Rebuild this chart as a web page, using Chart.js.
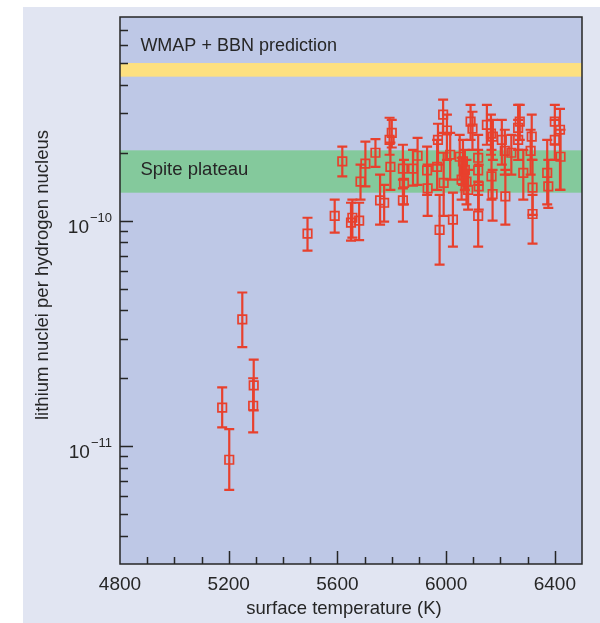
<!DOCTYPE html>
<html>
<head>
<meta charset="utf-8">
<script src="https://cdn.jsdelivr.net/npm/chart.js@4.4.1/dist/chart.umd.min.js"></script>
<style>
  html, body { margin: 0; padding: 0; background: #ffffff; }
  canvas { display: block; }
</style>
</head>
<body>
<canvas id="lithiumChart" width="600" height="623"></canvas>
<script>
// surface temperature of each star (K)
var temps = [5176, 5202, 5250, 5292, 5290,
    5490, 5590, 5618, 5650, 5655, 5680, 5685, 5703, 5740, 5757,
    5772, 5792, 5800, 5795, 5841, 5845, 5841, 5878, 5895, 5930,
    5932, 5970, 5967, 5976, 5989, 6003, 5991, 6025, 6015, 6050,
    6062, 6069, 6057, 6075, 6081, 6090, 6097, 6118, 6118, 6120,
    6118, 6150, 6165, 6172, 6167, 6171, 6205, 6216, 6218, 6240,
    6265, 6271, 6265, 6284, 6311, 6315, 6318, 6318, 6372, 6376,
    6400, 6400, 6419, 6421];

// lithium nuclei per hydrogen nucleus
var lithium = [1.48e-11, 8.7e-12, 3.65e-11, 1.86e-11, 1.51e-11,
    0.876e-10, 1.05e-10, 1.83e-10, 0.98e-10, 1.03e-10, 1.0e-10, 1.49e-10, 1.79e-10, 2.0e-10, 1.23e-10,
    1.20e-10, 2.28e-10, 2.45e-10, 1.73e-10, 1.70e-10, 1.47e-10, 1.23e-10, 1.70e-10, 1.94e-10, 1.67e-10,
    1.39e-10, 2.28e-10, 1.73e-10, 0.91e-10, 2.95e-10, 2.51e-10, 1.47e-10, 1.01e-10, 1.96e-10, 1.92e-10,
    1.83e-10, 1.68e-10, 1.52e-10, 1.49e-10, 1.37e-10, 2.75e-10, 2.56e-10, 1.90e-10, 1.67e-10, 1.42e-10,
    1.05e-10, 2.66e-10, 2.43e-10, 2.36e-10, 1.57e-10, 1.31e-10, 2.28e-10, 2.04e-10, 1.28e-10, 2.0e-10,
    2.58e-10, 2.75e-10, 2.28e-10, 1.63e-10, 2.04e-10, 2.36e-10, 1.40e-10, 1.07e-10, 1.63e-10, 1.42e-10,
    2.28e-10, 2.75e-10, 2.53e-10, 1.92e-10];

// upper / lower ends of the error bars
var errHigh = [1.82e-11, 1.19e-11, 4.8e-11, 2.42e-11, 2.0e-11,
    1.03e-10, 1.24e-10, 2.13e-10, 1.20e-10, 1.24e-10, 1.20e-10, 1.77e-10, 2.24e-10, 2.30e-10, 1.60e-10,
    1.44e-10, 2.86e-10, 2.80e-10, 2.22e-10, 2.17e-10, 1.86e-10, 1.52e-10, 2.06e-10, 2.33e-10, 2.13e-10,
    1.77e-10, 2.69e-10, 2.28e-10, 1.30e-10, 3.44e-10, 2.95e-10, 2.0e-10, 1.33e-10, 2.45e-10, 2.40e-10,
    2.28e-10, 2.06e-10, 1.90e-10, 1.86e-10, 1.68e-10, 3.26e-10, 3.04e-10, 2.40e-10, 2.06e-10, 1.77e-10,
    1.44e-10, 3.26e-10, 2.95e-10, 2.80e-10, 2.06e-10, 1.68e-10, 2.80e-10, 2.53e-10, 1.68e-10, 2.40e-10,
    3.26e-10, 3.26e-10, 2.80e-10, 2.06e-10, 2.53e-10, 2.95e-10, 1.86e-10, 1.30e-10, 2.28e-10, 1.86e-10,
    2.80e-10, 3.26e-10, 3.13e-10, 2.53e-10];

var errLow = [1.21e-11, 6.4e-12, 2.75e-11, 1.44e-11, 1.15e-11,
    0.736e-10, 0.885e-10, 1.57e-10, 0.815e-10, 0.84e-10, 0.82e-10, 1.24e-10, 1.42e-10, 1.73e-10, 0.96e-10,
    0.99e-10, 1.96e-10, 2.11e-10, 1.37e-10, 1.39e-10, 1.18e-10, 0.99e-10, 1.43e-10, 1.44e-10, 1.30e-10,
    1.05e-10, 1.77e-10, 1.37e-10, 0.638e-10, 2.45e-10, 1.86e-10, 1.05e-10, 0.767e-10, 1.52e-10, 1.52e-10,
    1.44e-10, 1.37e-10, 1.24e-10, 1.18e-10, 1.12e-10, 2.28e-10, 2.06e-10, 1.49e-10, 1.30e-10, 1.12e-10,
    0.767e-10, 2.17e-10, 1.96e-10, 1.86e-10, 1.24e-10, 1.0e-10, 1.77e-10, 1.60e-10, 0.96e-10, 1.60e-10,
    2.06e-10, 2.28e-10, 1.86e-10, 1.24e-10, 1.60e-10, 1.86e-10, 1.06e-10, 0.79e-10, 1.18e-10, 1.14e-10,
    1.86e-10, 2.17e-10, 1.37e-10, 1.37e-10];

// horizontal bands [bottom, top]
var wmapBand = [4.35e-10, 5.0e-10];
var spiteBand = [1.33e-10, 2.05e-10];

var xTickLabels = [4800, 5200, 5600, 6000, 6400];
// decade labels on the log axis: base and exponent
var yTickLabels = { '-11': ['10', '\u221211'], '-10': ['10', '\u221210'] };

var ink = '#262626';
var red = '#e8402d';
var font = '"Liberation Sans", Arial, sans-serif';

// minor ticks on the log axis: 3e-12 ... 8e-10
var yTickValues = [];
for (var p = -12; p <= -10; p++) {
    for (var k = 1; k <= 9; k++) {
        var v = k * Math.pow(10, p);
        if (v >= 2.99e-12 && v <= 8.01e-10) yTickValues.push(v);
    }
}

function isDecade(v) {
    var l = Math.log10(v);
    return Math.abs(l - Math.round(l)) < 1e-6;
}

var decorations = {
    id: 'decorations',
    beforeDraw: function (chart) {
        var ctx = chart.ctx, a = chart.chartArea;
        ctx.save();
        ctx.fillStyle = '#ffffff';
        ctx.fillRect(0, 0, chart.width, chart.height);
        ctx.fillStyle = '#e1e5f2';
        ctx.fillRect(23, 7, chart.width - 23, chart.height - 7);
        ctx.fillStyle = '#bec8e6';
        ctx.fillRect(a.left, a.top, a.right - a.left, a.bottom - a.top);
        ctx.restore();
    },
    beforeDatasetsDraw: function (chart) {
        var ctx = chart.ctx, a = chart.chartArea;
        var x = chart.scales.x, y = chart.scales.y;
        ctx.save();
        function band(r, color) {
            var t = y.getPixelForValue(r[1]), b = y.getPixelForValue(r[0]);
            ctx.fillStyle = color;
            ctx.fillRect(a.left, t, a.right - a.left, b - t);
        }
        band(wmapBand, '#fde07f');
        band(spiteBand, '#84c99c');

        ctx.fillStyle = ink;
        ctx.textBaseline = 'middle';
        ctx.font = '18px ' + font;
        ctx.fillText('WMAP + BBN prediction', x.getPixelForValue(4875), y.getPixelForValue(5.96e-10));
        ctx.font = '18.5px ' + font;
        ctx.fillText('Spite plateau', x.getPixelForValue(4875), y.getPixelForValue(1.68e-10));

        // error bars
        ctx.strokeStyle = red;
        ctx.lineWidth = 2.2;
        for (var i = 0; i < temps.length; i++) {
            var px = x.getPixelForValue(temps[i]);
            var top = y.getPixelForValue(errHigh[i]);
            var bot = y.getPixelForValue(errLow[i]);
            ctx.beginPath();
            ctx.moveTo(px, top); ctx.lineTo(px, bot);
            ctx.moveTo(px - 5, top); ctx.lineTo(px + 5, top);
            ctx.moveTo(px - 5, bot); ctx.lineTo(px + 5, bot);
            ctx.stroke();
        }
        ctx.restore();
    },
    afterDraw: function (chart) {
        var ctx = chart.ctx, a = chart.chartArea;
        var x = chart.scales.x, y = chart.scales.y;
        ctx.save();
        ctx.strokeStyle = ink;
        ctx.lineWidth = 1.5;
        ctx.strokeRect(a.left, a.top, a.right - a.left, a.bottom - a.top);

        // tick marks point into the plot
        ctx.beginPath();
        x.ticks.forEach(function (t) {
            if (t.value <= x.min || t.value >= x.max) return;
            var px = Math.round(x.getPixelForValue(t.value)) + 0.5;
            var len = t.value % 400 === 0 ? 13 : 7;
            ctx.moveTo(px, a.bottom);
            ctx.lineTo(px, a.bottom - len);
        });
        y.ticks.forEach(function (t) {
            var py = Math.round(y.getPixelForValue(t.value)) + 0.5;
            if (py <= a.top + 1 || py >= a.bottom - 1) return;
            var len = isDecade(t.value) ? 13 : 8;
            ctx.moveTo(a.left, py);
            ctx.lineTo(a.left + len, py);
        });
        ctx.stroke();

        // decade labels with raised exponent
        ctx.fillStyle = ink;
        ctx.textAlign = 'right';
        ctx.textBaseline = 'alphabetic';
        y.ticks.forEach(function (t) {
            if (!isDecade(t.value)) return;
            var lab = yTickLabels[String(Math.round(Math.log10(t.value)))];
            if (!lab) return;
            var py = y.getPixelForValue(t.value);
            var right = a.left - 8;
            ctx.font = '13px ' + font;
            var supW = ctx.measureText(lab[1]).width;
            ctx.fillText(lab[1], right, py + 1);
            ctx.font = '19px ' + font;
            ctx.fillText(lab[0], right - supW - 1, py + 12);
        });

        // axis titles
        ctx.font = '18.5px ' + font;
        ctx.textAlign = 'center';
        ctx.textBaseline = 'middle';
        ctx.fillText('surface temperature (K)', 344, 609);
        ctx.translate(43, 275);
        ctx.rotate(-Math.PI / 2);
        ctx.fillText('lithium nuclei per hydrogen nucleus', 0, 0);
        ctx.restore();
    }
};

var ctxLi = document.getElementById('lithiumChart').getContext('2d');
var lithiumChart = new Chart(ctxLi, {
    type: 'scatter',
    data: {
        datasets: [{
            label: 'stars',
            data: temps.map(function (t, i) { return { x: t, y: lithium[i] }; }),
            pointStyle: 'rect',
            pointRadius: 6,
            pointHoverRadius: 6,
            pointBorderWidth: 1.7,
            pointBorderColor: red,
            pointBackgroundColor: 'rgba(0,0,0,0)'
        }]
    },
    options: {
        responsive: false,
        animation: false,
        layout: { padding: { left: 0, right: 18, top: 17, bottom: 0 } },
        plugins: {
            legend: { display: false },
            tooltip: { enabled: false }
        },
        scales: {
            x: {
                type: 'linear',
                min: 4800,
                max: 6500,
                grid: { display: false, drawTicks: false },
                border: { display: false },
                ticks: {
                    stepSize: 100,
                    autoSkip: false,
                    maxRotation: 0,
                    minRotation: 0,
                    padding: 9,
                    color: ink,
                    font: { family: font, size: 19 },
                    callback: function (value) {
                        return xTickLabels.indexOf(value) >= 0 ? String(value) : '';
                    }
                },
                afterFit: function (scale) { scale.height = 59; }
            },
            y: {
                type: 'logarithmic',
                min: 3e-12,
                max: 8e-10,
                grid: { display: false, drawTicks: false },
                border: { display: false },
                afterBuildTicks: function (scale) {
                    scale.ticks = yTickValues.map(function (v) { return { value: v }; });
                },
                ticks: {
                    autoSkip: false,
                    // decade labels are drawn with a raised exponent by the plugin
                    callback: function () { return ''; }
                },
                afterFit: function (scale) { scale.width = 120; }
            }
        }
    },
    plugins: [decorations]
});
</script>
</body>
</html>
